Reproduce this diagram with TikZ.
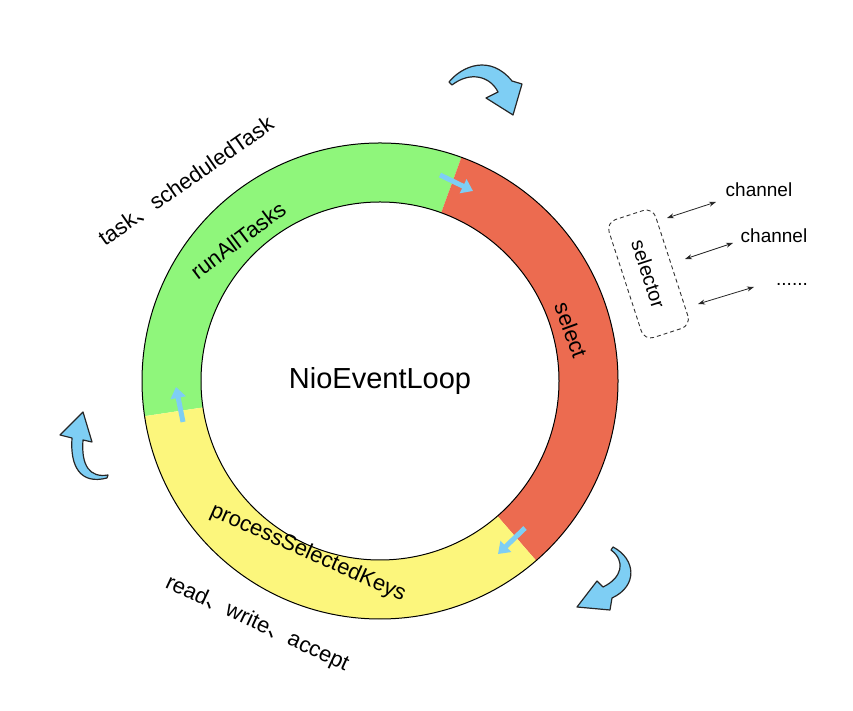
\documentclass[tikz,border=0pt]{standalone}
\usepackage{fontspec}
\setmainfont{Liberation Sans}
\newfontfamily\cjkfont{Noto Sans CJK SC}
\usetikzlibrary{arrows.meta}
\definecolor{ringgreen}{RGB}{143,246,123}
\definecolor{ringred}{RGB}{236,107,80}
\definecolor{ringyellow}{RGB}{252,246,124}
\definecolor{arrowblue}{RGB}{126,206,244}
\newcommand{\dunhao}{{\cjkfont 、}}
\begin{document}
\begin{tikzpicture}[x=1pt,y=1pt,
  ringlabel/.style={font=\fontsize{22}{26}\selectfont, inner sep=0pt},
  sidelabel/.style={font=\fontsize{22}{26}\selectfont, inner sep=0pt},
  chanlabel/.style={font=\fontsize{19}{23}\selectfont, inner sep=0pt},
  selectorbox/.style={draw=black!80, dash pattern=on 4pt off 3pt, line width=0.9pt,
    rounded corners=10pt, minimum width=124pt, minimum height=49pt,
    font=\fontsize{20}{24}\selectfont},
  flowarrow/.style={draw=arrowblue, line width=5pt, -{Triangle[length=11pt,width=15pt]}},
  bigarrow/.style={fill=arrowblue, draw=black!85, line width=1.2pt, line join=round},
  chanarrow/.style={draw=black!85, line width=0.8pt, {Stealth[length=7pt,width=5pt]}-{Stealth[length=7pt,width=5pt]}}
]
\useasboundingbox (0,0) rectangle (853,711);
\coordinate (C) at (380,330);
% ring segments
\begin{scope}[shift={(C)}]
  \fill[ringgreen] (70:238) arc[start angle=70, end angle=188.5, radius=238]
    -- (188.5:179) arc[start angle=188.5, end angle=70, radius=179] -- cycle;
  \fill[ringred] (-49:238) arc[start angle=-49, end angle=70, radius=238]
    -- (70:179) arc[start angle=70, end angle=-49, radius=179] -- cycle;
  \fill[ringyellow] (188.5:238) arc[start angle=188.5, end angle=311, radius=238]
    -- (311:179) arc[start angle=311, end angle=188.5, radius=179] -- cycle;
\end{scope}
\draw[line width=1pt] (C) circle[radius=238];
\draw[line width=1pt] (C) circle[radius=179];

% labels in the ring
\node[font=\fontsize{29}{34}\selectfont, inner sep=0pt] (loop) at (C) {NioEventLoop};
\node[ringlabel, rotate=37] (run) at (238,471) {runAllTasks};
\node[ringlabel, rotate=-70] (sel) at (571,381) {select};
\node[ringlabel, rotate=-24] (psk) at (308,158) {processSelectedKeys};

% outside labels
\node[sidelabel, rotate=35] (tasks) at (186,530) {task\dunhao scheduledTask};
\node[sidelabel, rotate=-25] (rwa) at (257,87) {read\dunhao write\dunhao accept};

% small flow arrows
\coordinate (f1a) at (440,536); \coordinate (f1b) at (473,520);
\coordinate (f2a) at (525,183); \coordinate (f2b) at (498,157);
\coordinate (f3a) at (183,289); \coordinate (f3b) at (176,324);
\draw[flowarrow] (f1a) -- (f1b);
\draw[flowarrow] (f2a) -- (f2b);
\draw[flowarrow] (f3a) -- (f3b);

% big curved arrows
\filldraw[bigarrow] (449,629) .. controls (462,645) and (490,657) .. (512,630)
  -- (522,627) -- (513,596) -- (486,613) -- (498,619)
  .. controls (490,635) and (470,640) .. (452,626) -- cycle;
\filldraw[bigarrow] (72,273) .. controls (70,245) and (80,226) .. (107,233)
  -- (108,236) .. controls (90,233) and (81,245) .. (83,271)
  -- (92,269) -- (83,299) -- (60,276) -- cycle;
\filldraw[bigarrow] (613,164) .. controls (636,152) and (638,125) .. (612,113)
  -- (610,101) -- (577,104) -- (597,130) -- (603,124)
  .. controls (622,133) and (626,150) .. (611,161) -- cycle;

% selector and channels
\node[selectorbox, rotate=-72] (selector) at (648.5,437) {selector};
\node[chanlabel] (ch1) at (759,521) {channel};
\node[chanlabel] (ch2) at (774,475) {channel};
\node[chanlabel, anchor=base] (ch3) at (792,425) {......};
\coordinate (c1a) at (667,493); \coordinate (c1b) at (716,509);
\coordinate (c2a) at (685,452); \coordinate (c2b) at (733,468);
\coordinate (c3a) at (698,407); \coordinate (c3b) at (754,424);
\draw[chanarrow] (c1a) -- (c1b);
\draw[chanarrow] (c2a) -- (c2b);
\draw[chanarrow] (c3a) -- (c3b);
\end{tikzpicture}
\end{document}
